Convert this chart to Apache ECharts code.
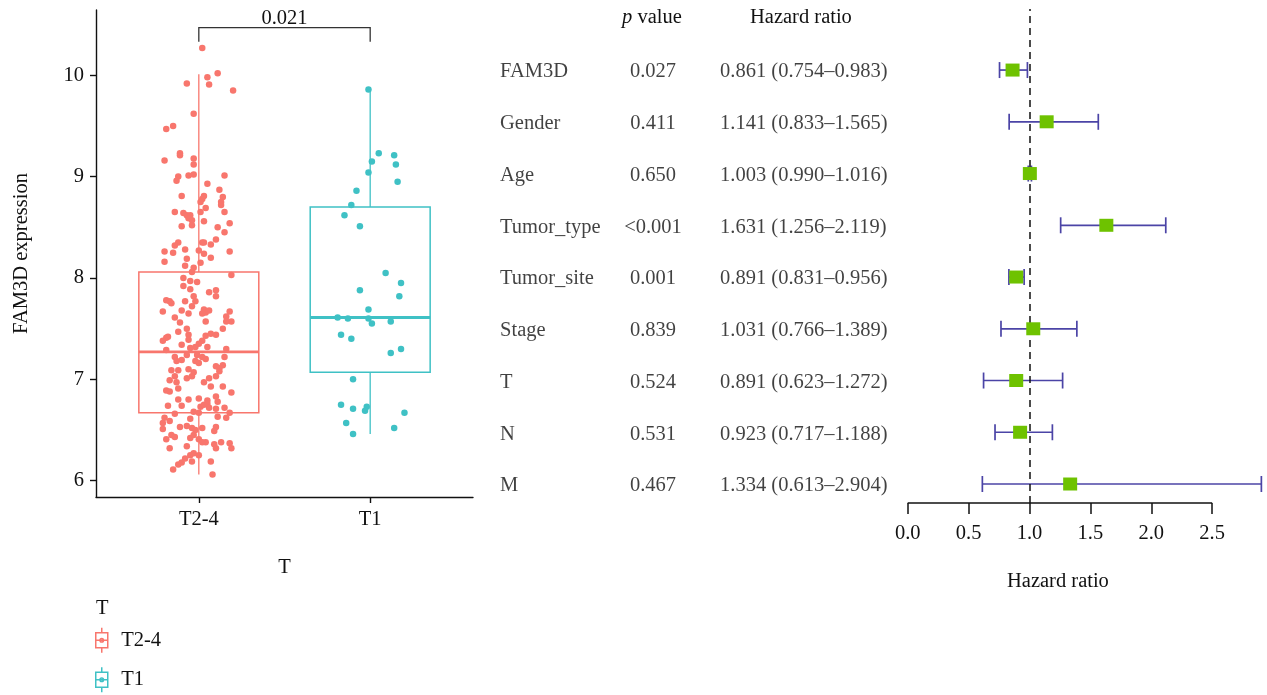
<!DOCTYPE html>
<html>
<head>
<meta charset="utf-8">
<script src="https://cdn.jsdelivr.net/npm/echarts@6/dist/echarts.min.js"></script>
<style>
  html, body { margin: 0; padding: 0; background: #fff; }
  #main { width: 1267px; height: 695px; }
</style>
</head>
<body>
<div id="main"></div>
<script>
// ---- left panel: FAM3D expression by T stage ----
var groups = ['T2-4', 'T1'];
var groupColors = ['#F8766D', '#3FC1C5'];
// [lower whisker, Q1, median, Q3, upper whisker]
var boxT24 = [6.06, 6.67, 7.27, 8.06, 10.01];
var boxT1 = [6.46, 7.07, 7.61, 8.70, 9.86];
var pLabel = '0.021';

// [jitter, expression]
var pointsT24 = [
  [0.02,10.27],[-0.07,9.92],[0.05,9.98],[0.06,9.91],[0.11,10.02],[0.20,9.85],[-0.03,9.62],[-0.19,9.47],[-0.15,9.50],[-0.11,9.23],
  [-0.20,9.16],[-0.11,9.21],[-0.03,9.18],[-0.03,9.12],[-0.12,9.00],[-0.13,8.96],[-0.06,9.01],[-0.03,9.02],[0.15,9.01],[0.05,8.93],
  [0.12,8.87],[-0.10,8.81],[0.03,8.81],[0.02,8.78],[0.01,8.75],[0.14,8.80],[0.13,8.75],[0.13,8.72],[0.04,8.69],[-0.14,8.65],
  [-0.09,8.64],[-0.07,8.62],[-0.05,8.62],[-0.06,8.59],[-0.04,8.57],[0.01,8.65],[0.15,8.65],[0.03,8.56],[-0.10,8.51],[-0.04,8.52],
  [0.11,8.50],[0.18,8.54],[0.15,8.45],[0.10,8.38],[-0.12,8.35],[-0.14,8.32],[0.02,8.35],[0.03,8.35],[0.07,8.33],[-0.20,8.26],
  [-0.15,8.25],[-0.08,8.28],[0.00,8.27],[0.03,8.24],[0.18,8.26],[-0.20,8.16],[-0.07,8.19],[-0.08,8.12],[0.01,8.15],[0.07,8.20],
  [-0.03,8.10],
  [0.19,8.03],[-0.04,8.06],[-0.09,8.00],[-0.05,7.97],[-0.01,7.96],[-0.09,7.92],[-0.05,7.89],[0.06,7.86],[0.10,7.88],[-0.03,7.82],
  [0.10,7.82],[-0.19,7.78],[-0.17,7.77],[-0.16,7.75],[-0.08,7.77],[-0.02,7.77],[-0.04,7.72],[-0.21,7.67],[-0.10,7.68],[-0.06,7.65],
  [0.03,7.69],[0.04,7.66],[0.06,7.68],[0.18,7.67],[-0.14,7.61],[0.02,7.65],[0.16,7.62],[0.04,7.57],[0.16,7.57],[0.19,7.57],
  [-0.11,7.56],[0.14,7.50],[-0.12,7.47],[-0.07,7.50],[-0.06,7.44],[0.04,7.43],[0.07,7.45],[0.10,7.44],[-0.19,7.41],[-0.18,7.42],
  [-0.21,7.38],[-0.06,7.39],[0.02,7.38],[0.00,7.35],[-0.10,7.34],[-0.02,7.32],[-0.05,7.31],[-0.19,7.29],[0.05,7.32],[0.16,7.30],
  [-0.14,7.22],[-0.07,7.24],[-0.01,7.24],[0.02,7.22],[0.04,7.20],[-0.13,7.18],[-0.10,7.19],[-0.02,7.18],[0.00,7.16],[0.15,7.22],
  [0.14,7.14],[0.10,7.13],[0.12,7.11],[-0.16,7.09],[-0.12,7.09],[-0.06,7.10],[-0.03,7.07],[0.12,7.08],[-0.14,7.03],[-0.07,7.01],
  [-0.04,7.03],[0.06,7.01],[0.10,7.03],[-0.17,6.99],[-0.13,6.97],[0.03,6.97],
  [-0.19,6.89],[-0.17,6.88],[-0.12,6.91],[0.07,6.93],[0.14,6.93],[0.19,6.87],[-0.12,6.80],[-0.06,6.80],[0.00,6.81],[0.05,6.79],
  [0.05,6.76],[0.10,6.83],[0.11,6.78],[-0.18,6.74],[-0.10,6.74],[0.01,6.73],[0.03,6.75],[0.06,6.72],[0.10,6.71],[0.15,6.72],
  [-0.14,6.66],[-0.03,6.68],[0.00,6.67],[0.18,6.67],[-0.20,6.62],[-0.17,6.59],[-0.21,6.57],[-0.05,6.61],[0.11,6.63],[0.16,6.62],
  [-0.11,6.53],[-0.07,6.54],[-0.04,6.52],[-0.02,6.50],[0.02,6.52],[0.10,6.53],[0.09,6.49],[-0.21,6.51],[-0.16,6.45],[-0.14,6.43],
  [-0.19,6.41],[-0.05,6.42],[-0.03,6.45],[0.00,6.41],[0.04,6.38],[0.02,6.38],[0.13,6.38],[0.18,6.37],[0.09,6.36],[-0.17,6.32],
  [-0.07,6.34],[0.19,6.32],[0.10,6.32],[-0.05,6.25],[-0.03,6.27],[0.00,6.25],[-0.08,6.22],[-0.10,6.18],[-0.12,6.16],[-0.04,6.19],
  [-0.15,6.11],[0.07,6.19],[0.08,6.06]
];
var pointsT1 = [
  [-0.01,9.86],[0.05,9.23],[0.14,9.21],[0.01,9.15],[0.15,9.12],[-0.01,9.04],[0.16,8.95],[-0.08,8.86],[-0.11,8.72],[-0.15,8.62],
  [-0.06,8.51],[0.09,8.05],[0.18,7.95],[-0.06,7.88],[0.17,7.82],[-0.01,7.69],[-0.19,7.61],[-0.13,7.60],[-0.01,7.60],[0.01,7.55],
  [0.12,7.57],[-0.17,7.44],[-0.11,7.40],[0.12,7.26],[0.18,7.30],[-0.10,7.00],[-0.17,6.75],[-0.10,6.71],[-0.02,6.73],[-0.03,6.69],
  [0.20,6.67],[-0.14,6.57],[0.14,6.52],[-0.10,6.46]
];

// ---- right panel: multivariate Cox regression ----
var variables = ['FAM3D', 'Gender', 'Age', 'Tumor_type', 'Tumor_site', 'Stage', 'T', 'N', 'M'];
var pValues = ['0.027', '0.411', '0.650', '<0.001', '0.001', '0.839', '0.524', '0.531', '0.467'];
var hr = [0.861, 1.141, 1.003, 1.631, 0.891, 1.031, 0.891, 0.923, 1.334];
var hrLow = [0.754, 0.833, 0.990, 1.256, 0.831, 0.766, 0.623, 0.717, 0.613];
var hrHigh = [0.983, 1.565, 1.016, 2.119, 0.956, 1.389, 1.272, 1.188, 2.904];
var hrTicks = [0, 0.5, 1, 1.5, 2, 2.5];

var FONT = 'Liberation Serif';
var INK = '#111';
var FS = 20.5;
var nRows = variables.length;
function rowOf(i) { return nRows - i; }

var myChart = echarts.init(document.getElementById('main'));

function boxItem(params, api) {
  var x = api.value(0);
  var lo = api.value(1), q1 = api.value(2), med = api.value(3), q3 = api.value(4), hi = api.value(5);
  var half = 0.35;
  var color = api.visual('color');
  var a = api.coord([x - half, q3]);
  var b = api.coord([x + half, q1]);
  var m1 = api.coord([x - half, med]);
  var m2 = api.coord([x + half, med]);
  var w1 = api.coord([x, hi]);
  var w2 = api.coord([x, q3]);
  var w3 = api.coord([x, q1]);
  var w4 = api.coord([x, lo]);
  return {
    type: 'group',
    children: [
      { type: 'line', shape: { x1: w1[0], y1: w1[1], x2: w2[0], y2: w2[1] }, style: { stroke: color, lineWidth: 1.3 } },
      { type: 'line', shape: { x1: w3[0], y1: w3[1], x2: w4[0], y2: w4[1] }, style: { stroke: color, lineWidth: 1.3 } },
      { type: 'rect', shape: { x: a[0], y: a[1], width: b[0] - a[0], height: b[1] - a[1] }, style: { fill: 'none', stroke: color, lineWidth: 1.5 } },
      { type: 'line', shape: { x1: m1[0], y1: m1[1], x2: m2[0], y2: m2[1] }, style: { stroke: color, lineWidth: 2.8 } }
    ]
  };
}

function bracketItem(params, api) {
  var x1 = api.value(0), x2 = api.value(1), yLow = api.value(2), yHigh = api.value(3);
  var p1 = api.coord([x1, yLow]), p2 = api.coord([x1, yHigh]);
  var p3 = api.coord([x2, yHigh]), p4 = api.coord([x2, yLow]);
  return {
    type: 'group',
    children: [
      { type: 'polyline', shape: { points: [p1, p2, p3, p4] }, style: { fill: 'none', stroke: '#333', lineWidth: 1.3 } },
      { type: 'text', x: (p2[0] + p3[0]) / 2, y: p2[1] + 1,
        style: { text: pLabel, font: FS + 'px "' + FONT + '"', fill: INK, textAlign: 'center', textVerticalAlign: 'bottom' } }
    ]
  };
}

function errorBarItem(params, api) {
  var row = api.value(0), lo = api.value(1), hi = api.value(2);
  var a = api.coord([lo, row]), b = api.coord([hi, row]);
  var cap = 8;
  var st = { stroke: '#4B44A6', lineWidth: 1.7 };
  return {
    type: 'group',
    children: [
      { type: 'line', shape: { x1: a[0], y1: a[1], x2: b[0], y2: b[1] }, style: st },
      { type: 'line', shape: { x1: a[0], y1: a[1] - cap, x2: a[0], y2: a[1] + cap }, style: st },
      { type: 'line', shape: { x1: b[0], y1: b[1] - cap, x2: b[0], y2: b[1] + cap }, style: st }
    ]
  };
}

var boxIcon = 'path://M2,5L14,5L14,20L2,20Z M8,0L8,5 M8,20L8,25 M2,12.5L14,12.5 M9.8,12.5A1.8,1.8,0,1,1,6.2,12.5A1.8,1.8,0,1,1,9.8,12.5Z';

var textBase = { fontFamily: FONT, fontSize: FS, color: INK, fontWeight: 'normal' };

function tableSeries(name, xPos, position, fmt) {
  return {
    name: name,
    type: 'scatter',
    xAxisIndex: 2,
    yAxisIndex: 2,
    symbolSize: 0.1,
    itemStyle: { color: 'rgba(0,0,0,0)' },
    silent: true,
    label: {
      show: true,
      position: position,
      distance: 0,
      offset: [0, 2],
      fontFamily: FONT,
      fontSize: FS,
      color: INK,
      formatter: function(p) { return fmt(p.dataIndex); }
    },
    data: variables.map(function(v, i) { return [xPos, rowOf(i)]; })
  };
}

var option = {
  animation: false,
  backgroundColor: '#fff',
  title: [
    { text: '{i|p} value', left: 622, top: 7, padding: 0,
      textStyle: Object.assign({}, textBase, { rich: { i: { fontFamily: FONT, fontSize: FS, color: INK, fontStyle: 'italic' } } }) },
    { text: 'Hazard ratio', left: 750, top: 7, padding: 0, textStyle: textBase },
    { text: 'Hazard ratio', left: 1007, top: 571, padding: 0, textStyle: textBase },
    { text: 'T', left: 96, top: 598, padding: 0, textStyle: textBase }
  ],
  legend: {
    orient: 'vertical',
    left: 95,
    top: 627,
    padding: 0,
    itemWidth: 15,
    itemHeight: 25,
    itemGap: 13,
    selectedMode: false,
    textStyle: { fontFamily: FONT, fontSize: FS, color: INK, padding: [0, 0, 0, 7] },
    data: groups.map(function(g, i) {
      return { name: g, icon: boxIcon, itemStyle: { color: '#fff', borderColor: groupColors[i], borderWidth: 1.5 } };
    })
  },
  grid: [
    { left: 96, top: 10, width: 377, height: 487 },
    { left: 907.7, top: 9, width: 354.4, height: 494 },
    { left: 500, top: 9, width: 400, height: 494 }
  ],
  xAxis: [
    {
      type: 'value', gridIndex: 0, min: 0.4, max: 2.6,
      name: 'T', nameLocation: 'middle', nameGap: 60, nameTextStyle: textBase,
      axisLine: { show: true, lineStyle: { color: '#111', width: 1.4 } },
      axisTick: { show: true, length: 6, customValues: [1, 2], lineStyle: { color: '#111', width: 1.4 } },
      axisLabel: { customValues: [1, 2], margin: 12, fontFamily: FONT, fontSize: FS, color: INK,
        formatter: function(v) { return groups[Math.round(v) - 1]; } },
      splitLine: { show: false }
    },
    {
      type: 'value', gridIndex: 1, min: 0, max: 2.91,
      axisLine: { show: false },
      axisTick: { show: true, length: 11, customValues: hrTicks, lineStyle: { color: '#111', width: 1.5 } },
      axisLabel: { customValues: hrTicks, margin: 20, fontFamily: FONT, fontSize: FS, color: INK,
        formatter: function(v) { return v.toFixed(1); } },
      splitLine: { show: false }
    },
    { type: 'value', gridIndex: 2, min: 0, max: 400, show: false }
  ],
  yAxis: [
    {
      type: 'value', gridIndex: 0, min: 5.839, max: 10.644,
      name: 'FAM3D expression', nameLocation: 'middle', nameGap: 64, nameTextStyle: textBase,
      axisLine: { show: true, lineStyle: { color: '#111', width: 1.4 } },
      axisTick: { show: true, length: 6, customValues: [6, 7, 8, 9, 10], lineStyle: { color: '#111', width: 1.4 } },
      axisLabel: { customValues: [6, 7, 8, 9, 10], margin: 12, fontFamily: FONT, fontSize: FS, color: INK },
      splitLine: { show: false }
    },
    { type: 'value', gridIndex: 1, min: 0.633, max: 10.18, show: false },
    { type: 'value', gridIndex: 2, min: 0.633, max: 10.18, show: false }
  ],
  series: [
    {
      name: groups[0], type: 'custom', xAxisIndex: 0, yAxisIndex: 0, z: 2,
      itemStyle: { color: groupColors[0] }, renderItem: boxItem,
      data: [[1].concat(boxT24)]
    },
    {
      name: groups[1], type: 'custom', xAxisIndex: 0, yAxisIndex: 0, z: 2,
      itemStyle: { color: groupColors[1] }, renderItem: boxItem,
      data: [[2].concat(boxT1)]
    },
    {
      name: groups[0], type: 'scatter', xAxisIndex: 0, yAxisIndex: 0, z: 3,
      symbolSize: 6.5, itemStyle: { color: groupColors[0], opacity: 1 },
      data: pointsT24.map(function(p) { return [1 + p[0], p[1]]; })
    },
    {
      name: groups[1], type: 'scatter', xAxisIndex: 0, yAxisIndex: 0, z: 3,
      symbolSize: 6.5, itemStyle: { color: groupColors[1], opacity: 1 },
      data: pointsT1.map(function(p) { return [2 + p[0], p[1]]; })
    },
    {
      name: 'bracket', type: 'custom', xAxisIndex: 0, yAxisIndex: 0, z: 4, clip: false,
      renderItem: bracketItem, silent: true,
      data: [[1, 2, 10.33, 10.47]]
    },
    {
      name: 'CI', type: 'custom', xAxisIndex: 1, yAxisIndex: 1, z: 3, clip: false,
      renderItem: errorBarItem, silent: true,
      data: variables.map(function(v, i) { return [rowOf(i), hrLow[i], hrHigh[i]]; }),
      markLine: {
        silent: true,
        symbol: ['none', 'none'],
        label: { show: false },
        animation: false,
        data: [
          { xAxis: 1, lineStyle: { color: '#111', width: 1.5, type: [7, 5] } },
          [{ coord: [0, 0.633], lineStyle: { color: '#111', width: 1.5, type: 'solid' } }, { coord: [2.5, 0.633] }]
        ]
      }
    },
    {
      name: 'HR', type: 'scatter', xAxisIndex: 1, yAxisIndex: 1, z: 5,
      symbol: 'rect', symbolSize: [14, 13], itemStyle: { color: '#6EC200', opacity: 1 },
      data: variables.map(function(v, i) { return [hr[i], rowOf(i)]; })
    },
    tableSeries('names', 0, 'right', function(i) { return variables[i]; }),
    tableSeries('pvals', 153, 'inside', function(i) { return pValues[i]; }),
    tableSeries('hrtext', 220, 'right', function(i) {
      return hr[i].toFixed(3) + ' (' + hrLow[i].toFixed(3) + '\u2013' + hrHigh[i].toFixed(3) + ')';
    })
  ]
};

myChart.setOption(option);
</script>
</body>
</html>
